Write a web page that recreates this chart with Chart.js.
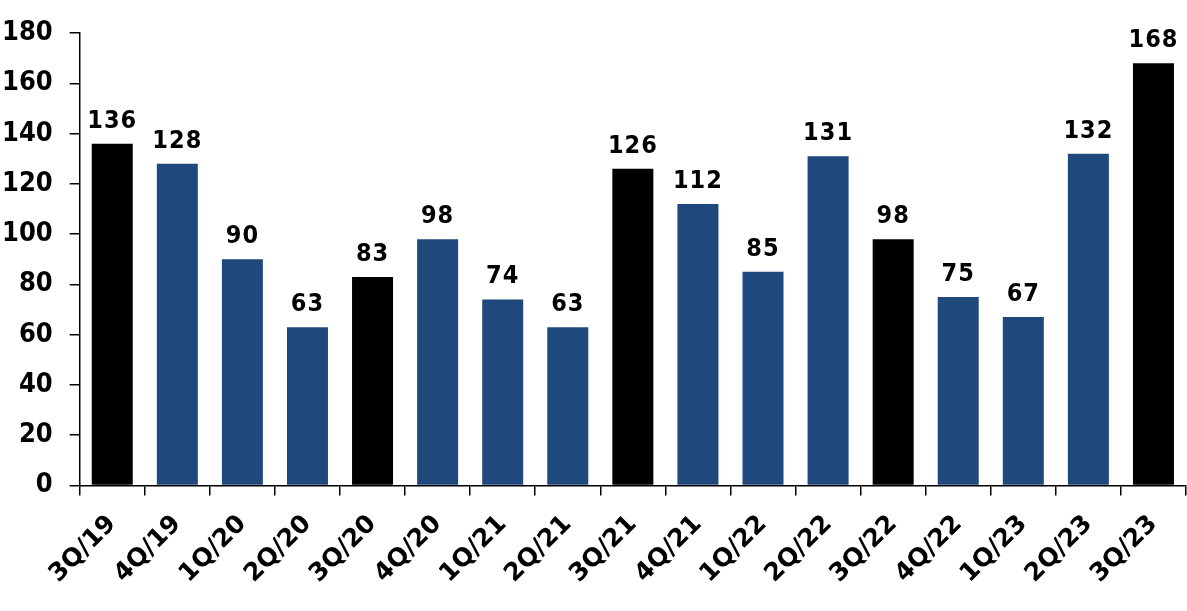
<!DOCTYPE html>
<html>
<head>
<meta charset="utf-8">
<script src="https://cdn.jsdelivr.net/npm/chart.js@4.4.0/dist/chart.umd.min.js"></script>
<style>
  body { margin: 0; background: #fff; }
  canvas { display: block; }
</style>
</head>
<body>
<canvas id="Kuartal" width="1187" height="611"></canvas>
<script>
// data kuartal
const kategori = ['3Q/19', '4Q/19', '1Q/20', '2Q/20', '3Q/20', '4Q/20', '1Q/21', '2Q/21', '3Q/21',
                  '4Q/21', '1Q/22', '2Q/22', '3Q/22', '4Q/22', '1Q/23', '2Q/23', '3Q/23'];
const nilai = [136, 128, 90, 63, 83, 98, 74, 63, 126, 112, 85, 131, 98, 75, 67, 132, 168];
const warna_bar = ['#000000', '#1F497D', '#1F497D', '#1F497D', '#000000', '#1F497D', '#1F497D', '#1F497D', '#000000',
                   '#1F497D', '#1F497D', '#1F497D', '#000000', '#1F497D', '#1F497D', '#1F497D', '#000000'];
const tick_y = [0, 20, 40, 60, 80, 100, 120, 140, 160, 180];

const huruf = '"DejaVu Sans Condensed", "DejaVu Sans", sans-serif';

// label angka di atas bar
const labelNilai = {
    id: 'labelNilai',
    afterDatasetsDraw(chart) {
        const ctx = chart.ctx;
        const meta = chart.getDatasetMeta(0);
        ctx.save();
        ctx.font = 'bold 25px ' + huruf;
        ctx.fillStyle = '#000';
        ctx.textAlign = 'center';
        ctx.textBaseline = 'bottom';
        if ('letterSpacing' in ctx) ctx.letterSpacing = '1px';
        meta.data.forEach(function (bar, i) {
            ctx.fillText(String(nilai[i]), bar.x, bar.y - 10);
        });
        ctx.restore();
    }
};

new Chart(document.getElementById('Kuartal'), {
    type: 'bar',
    data: {
        labels: kategori,
        datasets: [{
            data: nilai,
            backgroundColor: warna_bar,
            borderWidth: 0,
            barPercentage: 0.63,
            categoryPercentage: 1
        }]
    },
    options: {
        responsive: false,
        animation: false,
        layout: { padding: { top: 14, right: 1, left: 2, bottom: 8 } },
        plugins: {
            legend: { display: false },
            tooltip: { enabled: false }
        },
        scales: {
            x: {
                offset: true,
                afterFit: function (s) { s.paddingLeft = 0; s.paddingRight = 0; },
                grid: { offset: true, drawOnChartArea: false, tickLength: 10, color: '#000', lineWidth: 1.5 },
                border: { color: '#000', width: 1.5 },
                ticks: {
                    color: '#000',
                    font: { family: '"DejaVu Sans", sans-serif', size: 25, weight: 'bold' },
                    minRotation: 45,
                    maxRotation: 45,
                    padding: 14,
                    autoSkip: false
                }
            },
            y: {
                min: 0,
                max: 180,
                afterBuildTicks: function (axis) {
                    axis.ticks = tick_y.map(function (v) { return { value: v }; });
                },
                // chart.js menghitung padding dua kali, kurangi satu
                afterFit: function (s) { s.width -= 17; },
                grid: { drawOnChartArea: false, tickLength: 10, color: '#000', lineWidth: 1.5 },
                border: { color: '#000', width: 1.5 },
                ticks: {
                    color: '#000',
                    font: { family: huruf, size: 27, weight: 'bold' },
                    padding: 17
                }
            }
        }
    },
    plugins: [labelNilai]
});
</script>
</body>
</html>
